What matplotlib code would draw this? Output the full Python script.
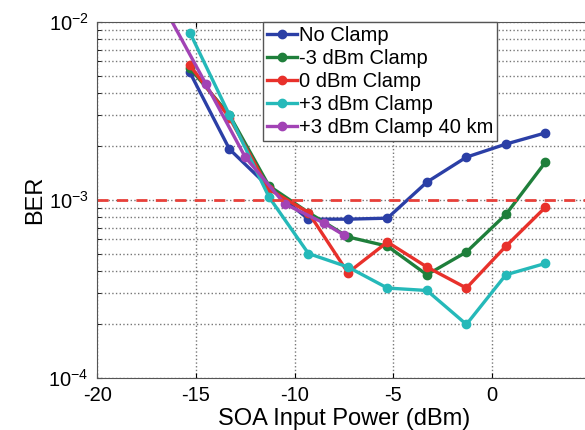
import numpy as np
import matplotlib
matplotlib.use("Agg")
import matplotlib.pyplot as plt

plt.rcParams['font.family'] = ['Liberation Sans', 'DejaVu Sans']
plt.rcParams['axes.unicode_minus'] = False

# SOA input power (dBm)
power = [-15.3, -13.3, -11.3, -9.3, -7.3, -5.3, -3.3, -1.3, 0.7, 2.7]
power_40km = [-16.5, -14.5, -12.5, -10.5, -8.5, -7.5]

# BER values
ber_no_clamp = [5.2e-3, 1.93e-3, 1.18e-3, 7.8e-4, 7.8e-4, 7.9e-4, 1.26e-3, 1.74e-3, 2.06e-3, 2.38e-3]
ber_m3_clamp = [5.5e-3, 3.0e-3, 1.2e-3, 8.5e-4, 6.2e-4, 5.5e-4, 3.8e-4, 5.1e-4, 8.3e-4, 1.63e-3]
ber_0_clamp = [5.7e-3, 2.9e-3, 1.15e-3, 8.5e-4, 3.9e-4, 5.8e-4, 4.2e-4, 3.2e-4, 5.5e-4, 9.1e-4]
ber_p3_clamp = [8.7e-3, 3.0e-3, 1.04e-3, 5.0e-4, 4.2e-4, 3.2e-4, 3.1e-4, 2.0e-4, 3.8e-4, 4.4e-4]
ber_p3_40km = [1.15e-2, 4.5e-3, 1.74e-3, 9.5e-4, 7.4e-4, 6.35e-4]

fec_limit = 1e-3

labels = ['No Clamp', '-3 dBm Clamp', '0 dBm Clamp', '+3 dBm Clamp', '+3 dBm Clamp 40 km']
colors = ['#2b3fa6', '#1f7f3b', '#e8312b', '#25b9b9', '#a243b5']

fig = plt.figure(figsize=(5.85, 4.3), dpi=100)
ax = fig.add_axes([0.166, 0.121, 0.844, 0.828])

series = [(power, ber_no_clamp), (power, ber_m3_clamp), (power, ber_0_clamp),
          (power, ber_p3_clamp), (power_40km, ber_p3_40km)]
for (x, y), lab, c in zip(series, labels, colors):
    ax.plot(x, y, '-o', color=c, lw=2.4, ms=6, label=lab)

ax.axhline(fec_limit, color='#e8403a', ls=(0, (4, 3)), lw=2)

ax.set_yscale('log')
ax.set_xlim(-20, 5)
ax.set_ylim(1e-4, 1e-2)
ax.set_xticks([-20, -15, -10, -5, 0, 5])

# matlab-like grid: dotted major x, dotted minor y
ax.grid(True, which='major', axis='x', ls=':', color='#777777', lw=1)
ax.grid(True, which='minor', axis='y', ls=':', color='#777777', lw=1)
ax.grid(True, which='major', axis='y', ls=':', color='#777777', lw=1)
ax.tick_params(which='both', direction='in', top=True, right=True, labelsize=14.5, pad=6)
ax.tick_params(which='minor', length=3)
for s in ax.spines.values():
    s.set_color('#555555')

ax.set_xlabel('SOA Input Power (dBm)', fontsize=17, labelpad=2)
ax.set_ylabel('BER', fontsize=17, labelpad=2)

leg = ax.legend(loc='upper left', bbox_to_anchor=(0.335, 1.0), fontsize=14.5,
                handlelength=1.5, handletextpad=0.1, borderpad=0.2,
                labelspacing=0.2, borderaxespad=0, fancybox=False,
                edgecolor='#555555', framealpha=1)
leg.get_frame().set_linewidth(1)

fig.savefig('out.png', dpi=100)
